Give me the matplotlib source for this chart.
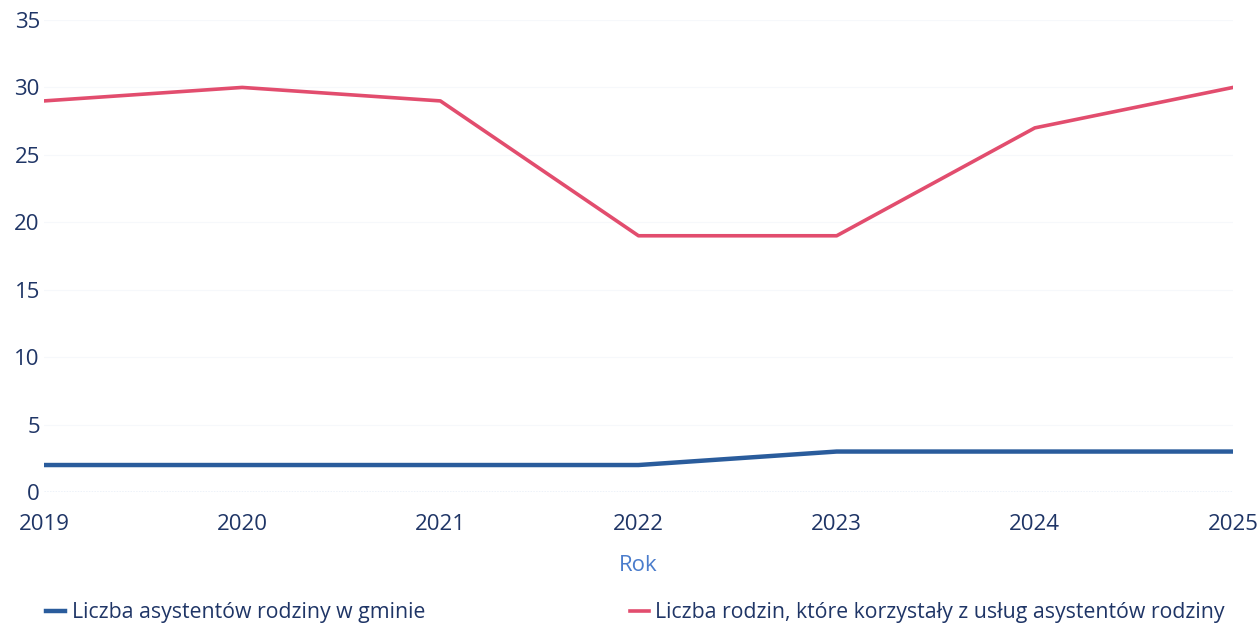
import matplotlib.pyplot as plt

# dane
lata = [2019, 2020, 2021, 2022, 2023, 2024, 2025]
asystenci = [2, 2, 2, 2, 3, 3, 3]
rodziny = [29, 30, 29, 19, 19, 27, 30]

ETYKIETA_ASYST = "Liczba asystentów rodziny w gminie"
ETYKIETA_RODZ = "Liczba rodzin, które korzystały z usług asystentów rodziny"

KOLOR_TEKST = "#1f3566"
KOLOR_ASYST = "#2a5c9c"
KOLOR_RODZ = "#e24d6e"

plt.rcParams["font.family"] = ["Open Sans", "DejaVu Sans"]

fig = plt.figure(figsize=(12.58, 6.26), dpi=100)
ax = fig.add_axes([44 / 1258, 1 - 492 / 626, (1233 - 44) / 1258, (492 - 20) / 626])

ax.plot(lata, asystenci, color=KOLOR_ASYST, linewidth=3.2, label=ETYKIETA_ASYST)
ax.plot(lata, rodziny, color=KOLOR_RODZ, linewidth=2.6, label=ETYKIETA_RODZ)

ax.set_xlim(2019, 2025)
ax.set_ylim(0, 35)
ax.set_xticks(lata)
ax.set_yticks(range(0, 36, 5))

for s in ax.spines.values():
    s.set_visible(False)
ax.axhline(0, color="#a9c4e6", linewidth=1.0, linestyle=(0, (1, 1)))
ax.grid(axis="y", color="#f6f8fb", linewidth=0.8)
ax.set_axisbelow(True)

ax.tick_params(axis="both", length=0, labelsize=16, labelcolor=KOLOR_TEKST)
ax.tick_params(axis="y", pad=3)
ax.tick_params(axis="x", pad=16)

ax.set_xlabel("Rok", fontsize=16, color="#4a7ccc", labelpad=14)

fig.legend(loc="lower left", bbox_to_anchor=(27 / 1258, -0.026, (1244 - 27) / 1258, 0.06),
           ncol=2, mode="expand", frameon=False, fontsize=15.3,
           handlelength=0.9, handletextpad=0.3, labelcolor=KOLOR_TEKST)

fig.savefig("out.png", dpi=100, facecolor="white")
